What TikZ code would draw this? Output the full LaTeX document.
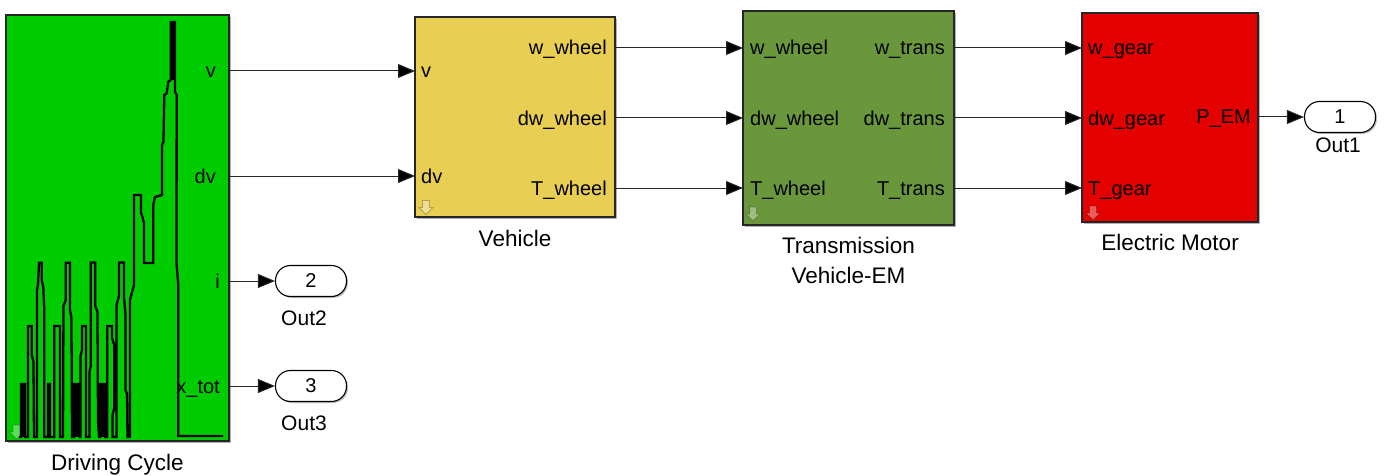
\documentclass[tikz,border=0pt]{standalone}
\usepackage{fontspec}
\setmainfont{Liberation Sans}
\usetikzlibrary{arrows.meta,shadows}

\definecolor{cyclegreen}{RGB}{0,205,0}
\definecolor{vehyellow}{RGB}{232,206,82}
\definecolor{transgreen}{RGB}{107,151,60}
\definecolor{motorred}{RGB}{229,0,0}
\definecolor{wirecol}{RGB}{40,40,40}

\begin{document}
\begin{tikzpicture}[x=1pt,y=-1pt,
  block/.style={draw=black!85, line width=1.1pt, inner sep=0pt,
    drop shadow={shadow xshift=2pt, shadow yshift=-2pt, fill=black, opacity=0.3}},
  portlbl/.style={font=\fontsize{20}{24}\selectfont, inner sep=0pt},
  blkname/.style={font=\fontsize{22.5}{27}\selectfont, inner sep=0pt},
  outname/.style={font=\fontsize{21}{25}\selectfont, inner sep=0pt},
  outport/.style={draw=black, line width=1.1pt, fill=white, rounded corners=15pt,
    minimum width=71pt, minimum height=31pt, inner sep=0pt,
    font=\fontsize{20}{24}\selectfont,
    drop shadow={shadow xshift=1.5pt, shadow yshift=-1.5pt, fill=black, opacity=0.25}},
  wire/.style={draw=wirecol, line width=1pt, -{Triangle[length=17pt,width=14pt,fill=black]}},
  wave/.style={draw=black, line width=2.3pt, line join=miter},
  downicon/.pic={
    \path[fill=white, fill opacity=0.35, draw=black, draw opacity=0.25, line width=0.8pt]
      (-3.5,-7) -- (3.5,-7) -- (3.5,0) -- (7,0) -- (0,7) -- (-7,0) -- (-3.5,0) -- cycle;
  }
]
% canvas
\useasboundingbox (0,0) rectangle (1386,476);

% ---------------- blocks ----------------
\node[block, fill=cyclegreen, minimum width=223pt, minimum height=426pt] (dc) at (117.5,228) {};
\node[block, fill=vehyellow, minimum width=200pt, minimum height=200pt] (veh) at (515,117) {};
\node[block, fill=transgreen, minimum width=211pt, minimum height=214pt] (trans) at (848.5,118) {};
\node[block, fill=motorred, minimum width=176pt, minimum height=209pt] (motor) at (1170,117.5) {};

% block icons
\pic at (16.5,432) {downicon};
\pic at (426,207.5) {downicon};
\pic at (753,214) {downicon};
\pic at (1093,213) {downicon};

% ---------------- speed profile drawn in the source block ----------------
\fill (21,384) rectangle (25,437);
\fill (48,384) rectangle (50,437);
\fill (74,384) rectangle (80,437);
\fill (100,384) rectangle (105,437);
\fill (170.7,22) rectangle (175,80);
\draw[wave] (19,437) -- (21,437)
  -- (21,384) -- (25,384) -- (25,437)
  -- (28,437) -- (28,326) -- (31.7,326) -- (31.7,355) -- (33.5,362) -- (34,437)
  -- (37,437) -- (37,290) -- (38,285) -- (39,262.7) -- (41.7,262.7) -- (41.7,280) -- (43.3,287) -- (44.3,310) -- (44.3,437)
  -- (48,437) -- (48,384) -- (50,384) -- (50,437)
  -- (54.3,437) -- (54.3,326) -- (60,326) -- (60,437)
  -- (63,437) -- (63.5,306) -- (65.7,300) -- (65.7,262.7) -- (70,262.7) -- (70,310) -- (71.5,318) -- (72,437)
  -- (74,437) -- (74,384) -- (80,384) -- (80,437)
  -- (80.5,437) -- (80.5,356) -- (82,350) -- (82,326) -- (86,326) -- (86,437)
  -- (89.5,437) -- (89.5,372) -- (90.7,366) -- (90.7,262.5) -- (95.3,262.5) -- (95.3,306) -- (97.5,312) -- (98,420) -- (99,437)
  -- (100,437) -- (100,384) -- (105,384) -- (105,437)
  -- (107.3,437) -- (107.3,326) -- (112,326) -- (112,338) -- (114.3,345) -- (114.3,408) -- (112.5,415) -- (112.5,437)
  -- (116.5,437) -- (116.5,305) -- (119,296) -- (119,262.5) -- (124,262.5) -- (124,298) -- (125.5,314) -- (125.5,390) -- (127,394) -- (127.5,437)
  -- (130,437) -- (130,300) -- (134,285) -- (134,195) -- (141,195) -- (141,212) -- (144,223) -- (144,263)
  -- (153.3,263) -- (153.3,205) -- (155,197) -- (162,195) -- (162,145) -- (163.5,141.7) -- (164.3,95)
  -- (166.7,93.3) -- (168.3,81.7) -- (170.7,80) -- (170.7,22) -- (175,22) -- (175,91.7) -- (176.7,95)
  -- (176.5,263) -- (178.3,285) -- (178.3,436) -- (223,436);

% ---------------- port labels ----------------
\node[portlbl, anchor=base east] (dcv)  at (216,78)  {v};
\node[portlbl, anchor=base east] (dcdv) at (216,183) {dv};
\node[portlbl, anchor=base east] (dci)  at (220,288) {i};
\node[portlbl, anchor=base east] (dcx)  at (220,393) {x\_tot};

\node[portlbl, anchor=base west] (vehv)  at (421,78)  {v};
\node[portlbl, anchor=base west] (vehdv) at (421,183) {dv};
\node[portlbl, anchor=base east] (vehw)  at (607,55)  {w\_wheel};
\node[portlbl, anchor=base east] (vehdw) at (607,125) {dw\_wheel};
\node[portlbl, anchor=base east] (veht)  at (607,195) {T\_wheel};

\node[portlbl, anchor=base west] (trw)  at (750,55)  {w\_wheel};
\node[portlbl, anchor=base west] (trdw) at (750,125) {dw\_wheel};
\node[portlbl, anchor=base west] (trt)  at (750,195) {T\_wheel};
\node[portlbl, anchor=base east] (trow)  at (945,55)  {w\_trans};
\node[portlbl, anchor=base east] (trodw) at (945,125) {dw\_trans};
\node[portlbl, anchor=base east] (trot)  at (945,195) {T\_trans};

\node[portlbl, anchor=base west] (mw)  at (1088,55)  {w\_gear};
\node[portlbl, anchor=base west] (mdw) at (1088,125) {dw\_gear};
\node[portlbl, anchor=base west] (mt)  at (1088,195) {T\_gear};
\node[portlbl, anchor=base east] (mp)  at (1251,124) {P\_EM};

% ---------------- block names ----------------
\node[blkname, anchor=base] (dcname) at (117.5,470) {Driving Cycle};
\node[blkname, anchor=base] (vehname) at (515,246) {Vehicle};
\node[blkname, anchor=base] (trname1) at (848.5,253) {Transmission};
\node[blkname, anchor=base] (trname2) at (848.5,283) {Vehicle-EM};
\node[blkname, anchor=base] (mname) at (1170,250) {Electric Motor};

% ---------------- outports ----------------
\node[outport] (out1) at (1340,117) {1};
\node[outport] (out2) at (311,281) {2};
\node[outport] (out3) at (311,386) {3};
\node[outname, anchor=base] (out1name) at (1338,153) {Out1};
\node[outname, anchor=base] (out2name) at (304,325) {Out2};
\node[outname, anchor=base] (out3name) at (304,430) {Out3};

% ---------------- port coordinates ----------------
\coordinate (p-dc-v)  at (229,71);
\coordinate (p-dc-dv) at (229,176);
\coordinate (p-dc-i)  at (229,281);
\coordinate (p-dc-x)  at (229,386);
\coordinate (p-veh-v)  at (415,71);
\coordinate (p-veh-dv) at (415,176);
\coordinate (p-veh-w)  at (615,48);
\coordinate (p-veh-dw) at (615,118);
\coordinate (p-veh-t)  at (615,188);
\coordinate (p-tr-iw)  at (743,48);
\coordinate (p-tr-idw) at (743,118);
\coordinate (p-tr-it)  at (743,188);
\coordinate (p-tr-ow)  at (954,48);
\coordinate (p-tr-odw) at (954,118);
\coordinate (p-tr-ot)  at (954,188);
\coordinate (p-m-w)  at (1082,48);
\coordinate (p-m-dw) at (1082,118);
\coordinate (p-m-t)  at (1082,188);
\coordinate (p-m-p)  at (1258,117);

% ---------------- signal lines ----------------
\draw[wire] (p-dc-v) -- (p-veh-v);
\draw[wire] (p-dc-dv) -- (p-veh-dv);
\draw[wire] (p-dc-i) -- (out2.west);
\draw[wire] (p-dc-x) -- (out3.west);
\draw[wire] (p-veh-w) -- (p-tr-iw);
\draw[wire] (p-veh-dw) -- (p-tr-idw);
\draw[wire] (p-veh-t) -- (p-tr-it);
\draw[wire] (p-tr-ow) -- (p-m-w);
\draw[wire] (p-tr-odw) -- (p-m-dw);
\draw[wire] (p-tr-ot) -- (p-m-t);
\draw[wire] (p-m-p) -- (out1.west);
\end{tikzpicture}
\end{document}
